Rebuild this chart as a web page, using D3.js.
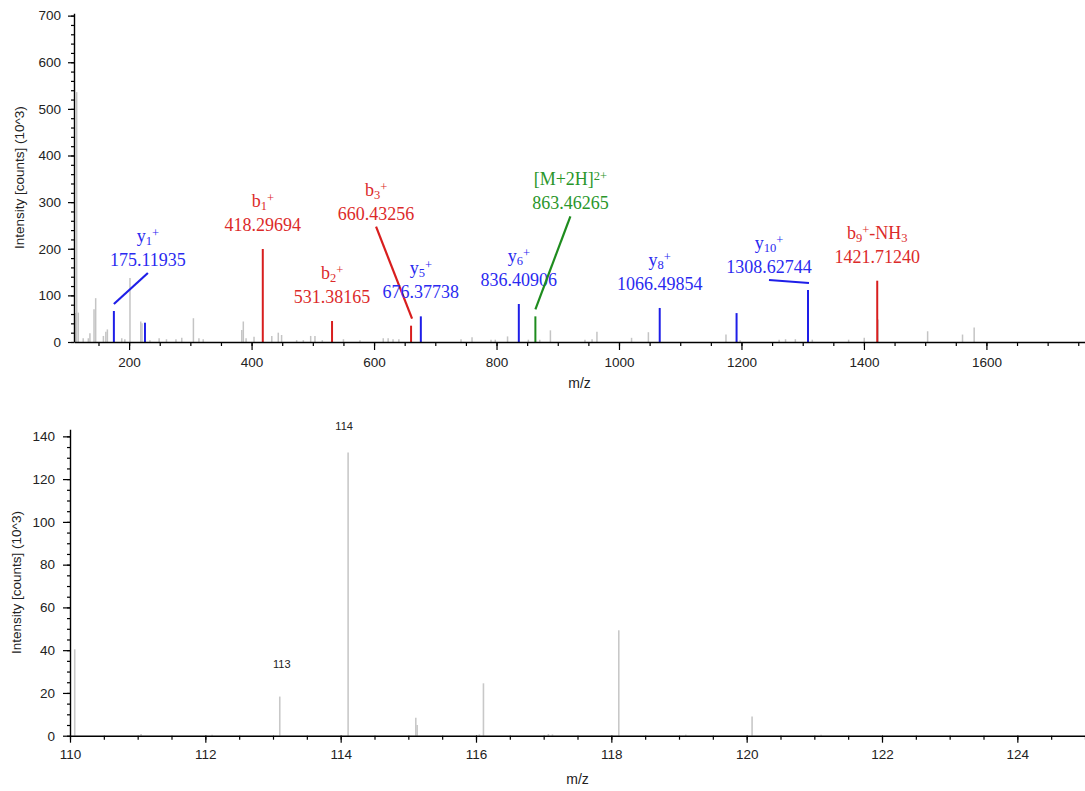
<!DOCTYPE html>
<html>
<head>
<meta charset="utf-8">
<script src="https://cdn.jsdelivr.net/npm/d3@7"></script>
<style>
  body { margin: 0; background: #fff; }
</style>
</head>
<body>
<div id="container"></div>
<script>

// ---- data: full MS/MS spectrum (intensity in 10^3 counts)
// unassigned peaks (gray)
const grayMz  = [111.6, 113.3, 114.4, 117, 125, 133.4, 136, 142.7, 145.4, 158, 162, 164.5, 188, 193, 201.4, 219, 221,
                 234, 249, 261, 276.5, 286, 305, 314, 321, 384, 386.5, 391, 404, 433, 443.6, 449, 473.6, 484.5,
                 496.5, 503.5, 515.5, 550, 577, 615, 623, 631, 640.5, 742, 760, 791, 798, 818, 852, 870.6, 888,
                 944.4, 956, 964, 1020.5, 1048, 1174.7, 1197.8, 1261.5, 1272, 1288, 1315.7, 1375, 1400.5, 1423,
                 1504, 1561, 1580];
const grayInt = [47, 62, 536, 63, 8, 8, 19, 70, 94, 13, 22, 27, 8, 6, 137, 44, 40,
                 4, 8, 6, 6, 9, 51, 8, 6, 26, 44, 8, 11, 13, 20, 15, 4, 4,
                 13, 13, 4, 6, 4, 8, 8, 6, 6, 6, 10, 5, 5, 12, 5, 5, 25,
                 5, 6, 22, 9, 21, 16, 4, 5, 6, 6, 5, 5, 9, 48,
                 23, 16, 31];

// assigned fragment ions
const ionMz    = [175.11935, 225.9, 418.29694, 531.38165, 660.43256, 676.37738, 836.40906, 863.46265,
                  1066.49854, 1192, 1308.62744, 1421.71240];
const ionInt   = [66.5, 41.4, 199.5, 45, 35, 55, 81.5, 55, 73, 62, 111.5, 131.5];
const ionType  = ["y", "y", "b", "b", "b", "y", "y", "M", "y", "y", "y", "b"];
const ionName  = ["y_1^+", "", "b_1^+", "b_2^+", "b_3^+", "y_5^+", "y_6^+", "[M+2H]^{2+}",
                  "y_8^+", "", "y_{10}^+", "b_9^+-NH_3"];

// ---- data: zoom on the reporter region
const zoomMz  = [110.07, 111.05, 112.1, 113.1, 114.11, 115.11, 115.13, 116.05, 116.11, 117.07, 117.13,
                 118.11, 119.1, 120.08, 121.1];
const zoomInt = [40.4, 0.8, 0.5, 18.3, 132.5, 8.4, 5, 0.6, 24.5, 0.8, 0.6, 49.3, 0.5, 9, 0.5];
const zoomLabelMz   = [113.1, 114.11];
const zoomLabelText = ["113", "114"];

// tick labels
const topXTicks = [200, 400, 600, 800, 1000, 1200, 1400, 1600];
const topYTicks = [0, 100, 200, 300, 400, 500, 600, 700];
const botXTicks = [110, 112, 114, 116, 118, 120, 122, 124];
const botYTicks = [0, 20, 40, 60, 80, 100, 120, 140];

// ---- layout (px) for labels that are moved away from their peak
const labelShift = {
  "175.11935": [34, -45],
  "660.43256": [-35, -106],
  "863.46265": [35, -107],
  "1308.62744": [-39, -17]
};
const zoomLabelShift = [[2, -29], [-4, -22]];

const colors = { y: "#1e1ee8", b: "#d81e1e", M: "#1e8c1e" };
const textColors = { y: "#2a2af0", b: "#dc2a2a", M: "#2a962a" };
const sans = "'Liberation Sans', Arial, sans-serif";
const serif = "'Palatino Linotype', 'Book Antiqua', Palatino, 'Liberation Serif', serif";

const width = 1085;
const height = 791;

const svg = d3.create("svg")
    .attr("width", width)
    .attr("height", height)
    .style("font-family", sans);

// draw a small axis pair (major labelled + minor ticks)
function drawAxes(g, x, y, o) {
  const ax = g.append("g").attr("transform", `translate(0,${o.y0})`);
  ax.call(d3.axisBottom(x).tickValues(o.minorX).tickSize(o.minX).tickSizeOuter(0).tickFormat(""));
  ax.append("g").call(d3.axisBottom(x).tickValues(o.xTicks).tickSize(o.majX).tickPadding(o.padX)
      .tickSizeOuter(0).tickFormat(d3.format("d")))
    .call(s => s.select(".domain").remove());

  const ay = g.append("g").attr("transform", `translate(${o.x0},0)`);
  ay.call(d3.axisLeft(y).tickValues(o.minorY).tickSize(o.minY).tickSizeOuter(0).tickFormat(""));
  ay.append("g").call(d3.axisLeft(y).tickValues(o.yTicks).tickSize(o.majY).tickPadding(o.padY)
      .tickSizeOuter(0).tickFormat(d3.format("d")))
    .call(s => s.select(".domain").remove());

  g.selectAll(".domain").attr("stroke", "#000").attr("stroke-width", 1.4);
  g.selectAll(".tick line").attr("stroke", "#000").attr("stroke-width", 1.2);
  g.selectAll(".tick text").attr("fill", "#222").style("font-size", "13.5px").style("font-family", sans);

  g.append("text")
    .attr("x", (x.range()[0] + x.range()[1]) / 2)
    .attr("y", o.titleY)
    .attr("text-anchor", "middle")
    .attr("fill", "#222")
    .style("font-size", "14px")
    .text("m/z");

  g.append("text")
    .attr("transform", `translate(${o.titleX},${(y.range()[0] + y.range()[1]) / 2}) rotate(-90)`)
    .attr("text-anchor", "middle")
    .attr("fill", "#222")
    .style("font-size", "13.5px")
    .text("Intensity [counts] (10^3)");
}

// label text with _sub and ^sup parts
function richText(sel, str) {
  const parts = [];
  let i = 0;
  while (i < str.length) {
    const c = str[i];
    if (c === "_" || c === "^") {
      let t;
      if (str[i + 1] === "{") {
        const j = str.indexOf("}", i);
        t = str.slice(i + 2, j);
        i = j + 1;
      } else {
        t = str[i + 1];
        i += 2;
      }
      parts.push({ t, k: c === "_" ? "sub" : "sup" });
    } else {
      let j = i;
      while (j < str.length && str[j] !== "_" && str[j] !== "^") j++;
      parts.push({ t: str.slice(i, j), k: "n" });
      i = j;
    }
  }
  let cur = 0;
  parts.forEach(p => {
    const target = p.k === "sub" ? 3 : p.k === "sup" ? -5 : 0;
    sel.append("tspan")
      .attr("dy", target - cur)
      .style("font-size", p.k === "n" ? "18px" : "12.5px")
      .text(p.t);
    cur = target;
  });
}

// ================= top: full spectrum =================
const xTop = d3.scaleLinear().domain([110, 1761]).range([74, 1085]);
const yTop = d3.scaleLinear().domain([0, 705]).range([342, 13.3]);

const gTop = svg.append("g");

gTop.append("g")
  .selectAll("line")
  .data(d3.zip(grayMz, grayInt))
  .join("line")
    .attr("x1", d => xTop(d[0]))
    .attr("x2", d => xTop(d[0]))
    .attr("y1", yTop(0))
    .attr("y2", d => yTop(d[1]))
    .attr("stroke", "#c4c4c4")
    .attr("stroke-width", 1.5);

const ions = ionMz.map((m, i) => ({ m, v: ionInt[i], type: ionType[i], name: ionName[i] }));

gTop.append("g")
  .selectAll("line")
  .data(ions)
  .join("line")
    .attr("x1", d => xTop(d.m))
    .attr("x2", d => xTop(d.m))
    .attr("y1", yTop(0))
    .attr("y2", d => yTop(d.v))
    .attr("stroke", d => colors[d.type])
    .attr("stroke-width", 2);

const labelled = ions.filter(d => d.name !== "");
const fmt = d3.format(".5f");

labelled.forEach(d => {
  const px = xTop(d.m), py = yTop(d.v);
  const sh = labelShift[fmt(d.m)] || null;
  const dx = sh ? sh[0] : 0;
  const dy = sh ? sh[1] : -18;
  const lx = px + dx, vb = py + dy;

  if (sh) {
    gTop.append("line")
      .attr("x1", px + (dx > 0 ? 0 : 1)).attr("y1", py - 7)
      .attr("x2", lx).attr("y2", vb + 7)
      .attr("stroke", colors[d.type])
      .attr("stroke-width", 2.2);
  }

  gTop.append("text")
    .attr("x", lx).attr("y", vb)
    .attr("text-anchor", "middle")
    .attr("fill", textColors[d.type])
    .style("font-family", serif)
    .style("font-size", "18px")
    .text(fmt(d.m));

  const t = gTop.append("text")
    .attr("x", lx).attr("y", vb - 24)
    .attr("text-anchor", "middle")
    .attr("fill", textColors[d.type])
    .style("font-family", serif)
    .style("font-size", "18px");
  richText(t, d.name);
});

drawAxes(gTop, xTop, yTop, {
  y0: 342, x0: 74,
  xTicks: topXTicks, minorX: d3.range(150, 1761, 50),
  yTicks: topYTicks, minorY: d3.range(0, 701, 20),
  majX: 8, minX: 4, padX: 7,
  majY: 6, minY: 3, padY: 7,
  titleY: 388, titleX: 24
});

// ================= bottom: reporter zoom =================
const xBot = d3.scaleLinear().domain([110, 125]).range([70, 1085]);
const yBot = d3.scaleLinear().domain([0, 143.3]).range([735.7, 429.3]);

const gBot = svg.append("g");

gBot.append("g")
  .selectAll("line")
  .data(d3.zip(zoomMz, zoomInt))
  .join("line")
    .attr("x1", d => xBot(d[0]))
    .attr("x2", d => xBot(d[0]))
    .attr("y1", yBot(0))
    .attr("y2", d => yBot(d[1]))
    .attr("stroke", "#c8c8c8")
    .attr("stroke-width", 1.6);

gBot.append("g")
  .selectAll("text")
  .data(zoomLabelMz)
  .join("text")
    .attr("x", (m, i) => xBot(m) + zoomLabelShift[i][0])
    .attr("y", (m, i) => yBot(zoomInt[zoomMz.indexOf(m)]) + zoomLabelShift[i][1])
    .attr("text-anchor", "middle")
    .attr("fill", "#222")
    .style("font-size", "11px")
    .text((m, i) => zoomLabelText[i]);

drawAxes(gBot, xBot, yBot, {
  y0: 735.7, x0: 70,
  xTicks: botXTicks, minorX: d3.range(110, 125.01, 0.5),
  yTicks: botYTicks, minorY: d3.range(0, 141, 5),
  majX: 7, minX: 4, padX: 7,
  majY: 7, minY: 3, padY: 8,
  titleY: 784, titleX: 21
});

container.append(svg.node());

</script>
</body>
</html>
